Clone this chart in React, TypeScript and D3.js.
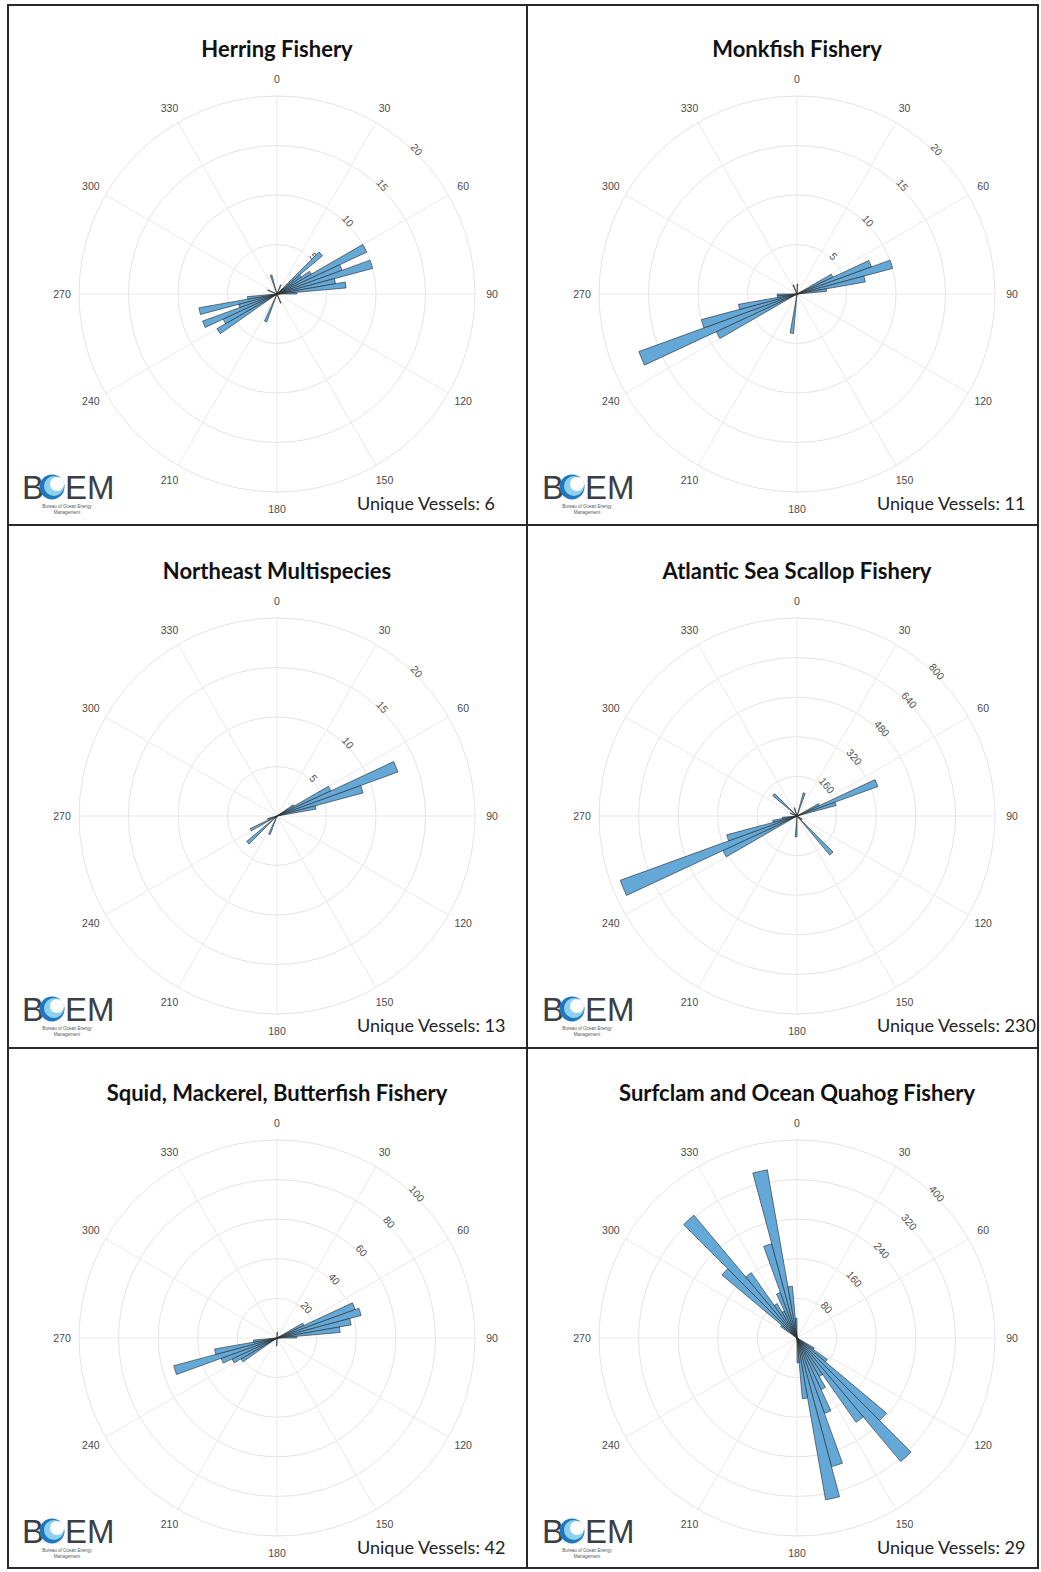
import React, { useEffect, useRef } from "react";
import * as d3 from "d3";

// one 5 degree bin per entry: bin start (deg, clockwise from north) and count
const herringBins = [20, 45, 50, 55, 60, 65, 70, 75, 80, 85, 155, 200, 235, 240, 245, 250, 255, 260, 290, 340];
const herringCounts = [1, 6, 3, 4, 10, 7, 10, 6, 7, 2, 1, 3, 7, 6, 8, 4, 8, 3, 1, 2];

const monkfishBins = [0, 60, 65, 70, 75, 80, 185, 240, 245, 250, 255, 260, 265, 335];
const monkfishCounts = [1, 4, 8, 10, 7, 3, 4, 9, 17, 10, 6, 2, 2, 1];

const multiBins = [55, 60, 65, 70, 75, 200, 225, 240, 250];
const multiCounts = [2, 6, 13, 9, 4, 2, 4, 3, 1];

const scallopBins = [15, 60, 65, 70, 120, 135, 180, 240, 245, 250, 255, 260, 290, 310, 340];
const scallopCounts = [97, 100, 348, 164, 25, 206, 84, 330, 760, 294, 100, 60, 30, 128, 35];

const squidBins = [0, 60, 65, 70, 75, 80, 85, 180, 235, 240, 245, 250, 255, 260];
const squidCounts = [3, 15, 42, 44, 38, 32, 10, 4, 21, 25, 30, 54, 32, 12];

const clamBins = [120, 125, 130, 135, 140, 145, 150, 155, 160, 165, 170, 175, 305, 310, 315, 320, 325, 330, 335, 340, 345, 350, 355];
const clamCounts = [40, 75, 236, 326, 208, 90, 115, 162, 269, 332, 123, 50, 40, 198, 324, 161, 80, 60, 98, 197, 345, 105, 40];

const titles = [
  "Herring Fishery",
  "Monkfish Fishery",
  "Northeast Multispecies",
  "Atlantic Sea Scallop Fishery",
  "Squid, Mackerel, Butterfish Fishery",
  "Surfclam and Ocean Quahog Fishery",
];
const vessels = [6, 11, 13, 230, 42, 29];
const rTicks = [
  [5, 10, 15, 20],
  [5, 10, 15, 20],
  [5, 10, 15, 20],
  [160, 320, 480, 640, 800],
  [20, 40, 60, 80, 100],
  [80, 160, 240, 320, 400],
];
const angleTicks = [0, 30, 60, 90, 120, 150, 180, 210, 240, 270, 300, 330];
const BIN = 5;

const panels = [
  [herringBins, herringCounts],
  [monkfishBins, monkfishCounts],
  [multiBins, multiCounts],
  [scallopBins, scallopCounts],
  [squidBins, squidCounts],
  [clamBins, clamCounts],
].map(([b, c], i) => ({
  title: titles[i],
  vessels: vessels[i],
  ticks: rTicks[i],
  bars: (b as number[]).map((d, j) => ({ dir: d, n: (c as number[])[j] })),
}));

const W = 1041, H = 1572;
const colCx = [277, 797];
const rowCy = [294, 816, 1338];
const R = 198;
const LABEL_FONT = "Liberation Sans, Arial, sans-serif";

const App = () => {
  const ref = useRef<SVGSVGElement>(null);

  useEffect(() => {
    const svg = d3.select(ref.current);
    svg.selectAll("*").remove();
    svg.append("rect").attr("width", W).attr("height", H).attr("fill", "#fff");

    const rad = (deg: number) => (deg * Math.PI) / 180;

    panels.forEach((p, i) => {
      const cx = colCx[i % 2];
      const cy = rowCy[Math.floor(i / 2)];
      const rmax = p.ticks[p.ticks.length - 1];
      const r = d3.scaleLinear().domain([0, rmax]).range([0, R]);

      const g = svg.append("g").attr("transform", `translate(${cx},${cy})`);

      // grid
      g.selectAll("circle.ring")
        .data(p.ticks)
        .join("circle")
        .attr("r", (d) => r(d))
        .attr("fill", "none")
        .attr("stroke", "#e4e4e4")
        .attr("stroke-width", 1);
      g.selectAll("line.spoke")
        .data(angleTicks)
        .join("line")
        .attr("x2", (d) => R * Math.sin(rad(d)))
        .attr("y2", (d) => -R * Math.cos(rad(d)))
        .attr("stroke", "#e9e9e9")
        .attr("stroke-width", 1);

      // angle labels
      g.selectAll("text.ang")
        .data(angleTicks)
        .join("text")
        .attr("x", (d) => 215 * Math.sin(rad(d)))
        .attr("y", (d) => -215 * Math.cos(rad(d)) + 1)
        .attr("text-anchor", "middle")
        .attr("dominant-baseline", "middle")
        .style("font-family", LABEL_FONT)
        .style("font-size", "10.5px")
        .style("fill", "#4a4a4a")
        .text((d) => d);

      // radial labels
      g.selectAll("text.rt")
        .data(p.ticks)
        .join("text")
        .attr("transform", (d) => {
          const rr = r(d) + 2;
          return `translate(${rr * Math.sin(rad(44))},${-rr * Math.cos(rad(44))}) rotate(50)`;
        })
        .attr("text-anchor", "middle")
        .attr("dominant-baseline", "middle")
        .style("font-family", LABEL_FONT)
        .style("font-size", "10.5px")
        .style("fill", "#555")
        .text((d) => d);

      // bars
      const arc = d3.arc<{ dir: number; n: number }>()
        .innerRadius(0)
        .outerRadius((d) => r(d.n))
        .startAngle((d) => rad(d.dir))
        .endAngle((d) => rad(d.dir + BIN));
      g.selectAll("path.bar")
        .data(p.bars)
        .join("path")
        .attr("d", arc as any)
        .attr("fill", "#64a8d7")
        .attr("stroke", "#262626")
        .attr("stroke-width", 0.6)
        .attr("stroke-linejoin", "round");

      // title
      g.append("text")
        .attr("y", -243)
        .attr("text-anchor", "middle")
        .attr("dominant-baseline", "middle")
        .style("font-family", "Lato, sans-serif")
        .style("font-weight", "700")
        .style("font-size", "22px")
        .style("fill", "#111")
        .text(p.title);

      g.append("text")
        .attr("x", 80)
        .attr("y", 216)
        .style("font-family", "Lato, sans-serif")
        .style("font-size", "18px")
        .style("fill", "#222")
        .text(`Unique Vessels: ${p.vessels}`);

      // BOEM logo
      const logo = g.append("g").attr("transform", `translate(-255,205)`);
      logo.append("text")
        .attr("x", 0)
        .style("font-family", LABEL_FONT)
        .style("font-size", "33px")
        .style("fill", "#3b3f45")
        .text("B");
      logo.append("circle").attr("cx", 30).attr("cy", -12).attr("r", 12.5).attr("fill", "#1f78be");
      logo.append("circle").attr("cx", 32).attr("cy", -13).attr("r", 10).attr("fill", "#8fd0ee");
      logo.append("circle").attr("cx", 35).attr("cy", -15).attr("r", 7).attr("fill", "#fff");
      logo.append("text")
        .attr("x", 43)
        .style("font-family", LABEL_FONT)
        .style("font-size", "33px")
        .style("fill", "#3b3f45")
        .text("EM");
      logo.append("text")
        .attr("x", 45)
        .attr("y", 9)
        .attr("text-anchor", "middle")
        .style("font-family", LABEL_FONT)
        .style("font-size", "4.5px")
        .style("fill", "#555")
        .text("Bureau of Ocean Energy");
      logo.append("text")
        .attr("x", 45)
        .attr("y", 15)
        .attr("text-anchor", "middle")
        .style("font-family", LABEL_FONT)
        .style("font-size", "4.5px")
        .style("fill", "#555")
        .text("Management");
    });

    // panel frame
    const frame = svg.append("g").attr("stroke", "#2a2a2a").attr("stroke-width", 2).attr("fill", "none");
    frame.append("rect").attr("x", 8).attr("y", 5).attr("width", 1030).attr("height", 1563);
    frame.append("line").attr("x1", 527).attr("x2", 527).attr("y1", 5).attr("y2", 1568);
    frame.append("line").attr("x1", 8).attr("x2", 1038).attr("y1", 525).attr("y2", 525);
    frame.append("line").attr("x1", 8).attr("x2", 1038).attr("y1", 1048).attr("y2", 1048);
  }, []);

  return (
    <svg
      ref={ref}
      width={W}
      height={H}
      style={{ position: "absolute", left: 0, top: 0, display: "block" }}
    />
  );
};

export default App;
